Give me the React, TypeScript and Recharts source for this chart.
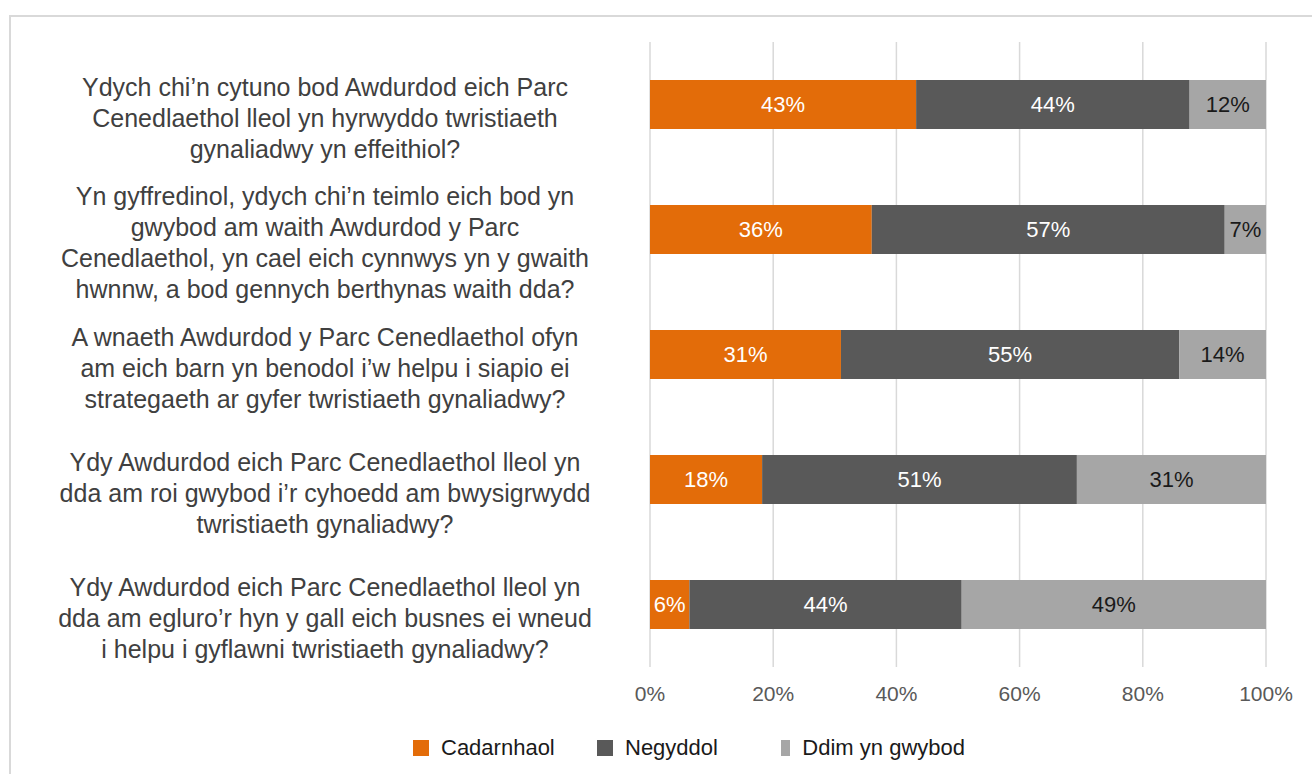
import React from "react";
import {
    BarChart,
    Bar,
    XAxis,
    YAxis,
    CartesianGrid,
    LabelList,
    Legend,
} from "recharts";

const categories = [
    "Ydych chi’n cytuno bod Awdurdod eich Parc\nCenedlaethol lleol yn hyrwyddo twristiaeth\ngynaliadwy yn effeithiol?",
    "Yn gyffredinol, ydych chi’n teimlo eich bod yn\ngwybod am waith Awdurdod y Parc\nCenedlaethol, yn cael eich cynnwys yn y gwaith\nhwnnw, a bod gennych berthynas waith dda?",
    "A wnaeth Awdurdod y Parc Cenedlaethol ofyn\nam eich barn yn benodol i’w helpu i siapio ei\nstrategaeth ar gyfer twristiaeth gynaliadwy?",
    "Ydy Awdurdod eich Parc Cenedlaethol lleol yn\ndda am roi gwybod i’r cyhoedd am bwysigrwydd\ntwristiaeth gynaliadwy?",
    "Ydy Awdurdod eich Parc Cenedlaethol lleol yn\ndda am egluro’r hyn y gall eich busnes ei wneud\ni helpu i gyflawni twristiaeth gynaliadwy?",
];

const seriesNames = ["Cadarnhaol", "Negyddol", "Ddim yn gwybod"];

const cadarnhaol = [43.2, 36.0, 31.0, 18.2, 6.4];
const negyddol = [44.4, 57.3, 54.9, 51.1, 44.2];
const ddimYnGwybod = [12.4, 6.7, 14.1, 30.7, 49.4];

const xTicks = [0, 20, 40, 60, 80, 100];

const FONT = '"Liberation Sans", Arial, sans-serif';

const data = categories.map((name, i) => ({
    name,
    cadarnhaol: cadarnhaol[i],
    negyddol: negyddol[i],
    ddim: ddimYnGwybod[i],
}));

const CategoryTick = (props: any) => {
    const { x, y, payload } = props;
    const lines: string[] = String(payload.value).split("\n");
    const lineHeight = 31;
    const firstY = y + 13 - ((lines.length - 1) * lineHeight) / 2 + 9;
    return (
        <text
            x={x - 325}
            y={firstY}
            textAnchor="middle"
            fill="#404040"
            fontSize={25}
            fontFamily={FONT}
        >
            {lines.map((line, i) => (
                <tspan key={i} x={x - 325} y={firstY + i * lineHeight}>
                    {line}
                </tspan>
            ))}
        </text>
    );
};

const LegendContent = (props: any) => {
    const items = [...(props.payload || [])].sort(
        (a: any, b: any) =>
            seriesNames.indexOf(a.value) - seriesNames.indexOf(b.value)
    );
    return (
        <div
            style={{
                height: 47,
                boxSizing: "border-box",
                display: "flex",
                alignItems: "flex-end",
                paddingBottom: 5,
                paddingLeft: 413,
                fontFamily: FONT,
                fontSize: 22,
                color: "#1a1a1a",
            }}
        >
            {items.map((entry: any) => (
                <div
                    key={entry.value}
                    style={{
                        width: 184,
                        display: "flex",
                        alignItems: "center",
                        whiteSpace: "nowrap",
                        height: 22,
                    }}
                >
                    <span
                        style={{
                            width: 16,
                            height: 16,
                            background: entry.color,
                            display: "inline-block",
                            marginRight: 12,
                        }}
                    />
                    <span>{entry.value}</span>
                </div>
            ))}
        </div>
    );
};

const pct = (v: any) => `${Math.round(Number(v))}%`;

export default function App() {
    return (
        <div
            style={{
                position: "absolute",
                left: 0,
                top: 0,
                width: 1312,
                height: 774,
                overflow: "hidden",
                background: "#fff",
            }}
        >
            <div
                style={{
                    position: "absolute",
                    left: 9,
                    top: 15,
                    width: 1400,
                    height: 900,
                    border: "2px solid #d9d9d9",
                }}
            />
            <div style={{ position: "absolute", left: 0, top: 0 }}>
                <BarChart
                    width={1312}
                    height={774}
                    data={data}
                    layout="vertical"
                    margin={{ top: 42, right: 46, left: 30, bottom: 10 }}
                    barSize={49}
                >
                    <CartesianGrid
                        horizontal={false}
                        stroke="#d9d9d9"
                        strokeWidth={1.5}
                    />
                    <XAxis
                        type="number"
                        domain={[0, 100]}
                        ticks={xTicks}
                        tickFormatter={(v) => `${v}%`}
                        axisLine={false}
                        tickLine={false}
                        tickSize={0}
                        tickMargin={19}
                        height={50}
                        tick={{ fill: "#595959", fontSize: 21, fontFamily: FONT }}
                    />
                    <YAxis
                        type="category"
                        dataKey="name"
                        width={620}
                        axisLine={false}
                        tickLine={false}
                        tickSize={0}
                        tickMargin={0}
                        interval={0}
                        tick={<CategoryTick />}
                    />
                    <Legend
                        verticalAlign="bottom"
                        content={<LegendContent />}
                        wrapperStyle={{ left: 0, width: 1312 }}
                    />
                    <Bar
                        dataKey="cadarnhaol"
                        name={seriesNames[0]}
                        stackId="a"
                        fill="#E36C09"
                        isAnimationActive={false}
                    >
                        <LabelList
                            dataKey="cadarnhaol"
                            position="center"
                            formatter={pct}
                            fill="#ffffff"
                            fontSize={22}
                            fontFamily={FONT}
                        />
                    </Bar>
                    <Bar
                        dataKey="negyddol"
                        name={seriesNames[1]}
                        stackId="a"
                        fill="#595959"
                        isAnimationActive={false}
                    >
                        <LabelList
                            dataKey="negyddol"
                            position="center"
                            formatter={pct}
                            fill="#ffffff"
                            fontSize={22}
                            fontFamily={FONT}
                        />
                    </Bar>
                    <Bar
                        dataKey="ddim"
                        name={seriesNames[2]}
                        stackId="a"
                        fill="#A6A6A6"
                        isAnimationActive={false}
                    >
                        <LabelList
                            dataKey="ddim"
                            position="center"
                            formatter={pct}
                            fill="#1a1a1a"
                            fontSize={22}
                            fontFamily={FONT}
                        />
                    </Bar>
                </BarChart>
            </div>
        </div>
    );
}
